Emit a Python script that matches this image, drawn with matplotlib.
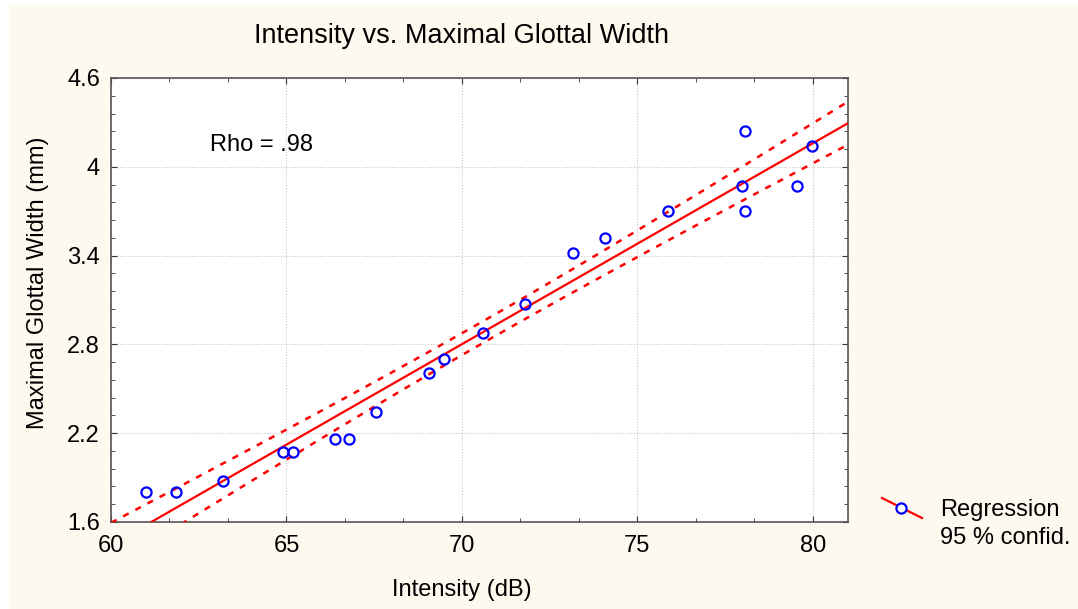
import numpy as np
import matplotlib
matplotlib.use("Agg")
import matplotlib.pyplot as plt
from matplotlib.patches import Rectangle
from matplotlib.lines import Line2D
from matplotlib.ticker import FixedLocator, MultipleLocator, AutoMinorLocator

plt.rcParams["font.family"] = ["Liberation Sans", "DejaVu Sans"]

# Intensity (dB) and maximal glottal width (mm) per token
intensity = [61.0, 61.85, 63.19, 64.9, 65.19, 66.38, 66.78, 67.55, 69.06, 69.49,
             70.6, 71.79, 73.16, 74.07, 75.87, 77.98, 78.06, 78.06, 79.54, 79.97]
glottal_width = [1.80, 1.80, 1.88, 2.07, 2.07, 2.16, 2.16, 2.34, 2.61, 2.70,
                 2.88, 3.07, 3.42, 3.52, 3.70, 3.87, 4.24, 3.70, 3.87, 4.14]
y_ticks = [1.6, 2.2, 2.8, 3.4, 4.0, 4.6]
y_tick_labels = ["1.6", "2.2", "2.8", "3.4", "4", "4.6"]
rho_text = "Rho = .98"

CREAM = "#fef9ef"
RED = "#ff0000"
BLUE = "#0000ff"
FS = 17

x = np.array(intensity)
y = np.array(glottal_width)

# least squares fit with 95% confidence band for the mean
slope, intercept = np.polyfit(x, y, 1)
n = len(x)
resid = y - (slope * x + intercept)
s = np.sqrt(np.sum(resid ** 2) / (n - 2))
t975 = 2.101  # t(0.975, df=18)
xs = np.linspace(60, 81, 200)
fit = slope * xs + intercept
half = t975 * s * np.sqrt(1 / n + (xs - x.mean()) ** 2 / np.sum((x - x.mean()) ** 2))

fig = plt.figure(figsize=(10.78, 6.09), dpi=100, facecolor="white")
fig.patches.append(Rectangle((9 / 1078, 0), 1, 1 - 5 / 609, transform=fig.transFigure,
                             facecolor=CREAM, edgecolor="none", zorder=-10))

ax = fig.add_axes([111 / 1078, 1 - 522 / 609, 737 / 1078, 444 / 609])
ax.set_facecolor("white")

ax.plot(xs, fit, color=RED, lw=1.6, zorder=3)
ax.plot(xs, fit + half, color=RED, lw=1.8, ls=(0, (2.5, 3)), zorder=3)
ax.plot(xs, fit - half, color=RED, lw=1.8, ls=(0, (2.5, 3)), zorder=3)
ax.plot(x, y, "o", mfc="none", mec=BLUE, mew=1.6, ms=7.3, zorder=4, clip_on=False)

ax.set_xlim(60, 81)
ax.set_ylim(1.6, 4.6)
ax.xaxis.set_major_locator(MultipleLocator(5))
ax.yaxis.set_major_locator(FixedLocator(y_ticks))
ax.set_yticklabels(y_tick_labels)
ax.xaxis.set_minor_locator(AutoMinorLocator(3))
ax.yaxis.set_minor_locator(AutoMinorLocator(5))
ax.grid(True, which="major", color="#c8c8c8", ls=(0, (1, 1.5)), lw=0.8)
ax.tick_params(which="both", direction="in", top=True, right=True, labelsize=FS,
               color="#333333")
ax.tick_params(which="major", length=4)
ax.tick_params(which="minor", length=3)
ax.tick_params(axis="x", pad=9)
ax.tick_params(axis="y", pad=8)
for sp in ax.spines.values():
    sp.set_color("#555555")
    sp.set_linewidth(1.2)

ax.set_xlabel("Intensity (dB)", fontsize=FS)
ax.set_ylabel("Maximal Glottal Width (mm)", fontsize=FS)
ax.xaxis.set_label_coords((462 - 111) / 737, -(590 - 522) / 444)
ax.yaxis.set_label_coords(-(111 - 38) / 737, (522 - 283) / 444)
ax.xaxis.label.set_va("center")
ax.yaxis.label.set_va("center")
ax.text(62.82, 4.147, rho_text, fontsize=FS, va="center", ha="left")

fig.text(462 / 1078, 1 - 36 / 609, "Intensity vs. Maximal Glottal Width",
         fontsize=19.5, ha="center", va="center")

# legend key: slanted red segment with an open blue circle
fig.lines.append(Line2D([882 / 1078, 922 / 1078], [1 - 498 / 609, 1 - 518 / 609],
                        transform=fig.transFigure, color=RED, lw=1.6))
fig.lines.append(Line2D([901 / 1078], [1 - 508 / 609], transform=fig.transFigure,
                        marker="o", mfc="white", mec=BLUE, mew=1.6, ms=7.3))
fig.text(940 / 1078, 1 - 510 / 609, "Regression", fontsize=FS, va="center")
fig.text(940 / 1078, 1 - 538 / 609, "95 % confid.", fontsize=FS, va="center")

fig.savefig("out.png", dpi=100, facecolor="white")
